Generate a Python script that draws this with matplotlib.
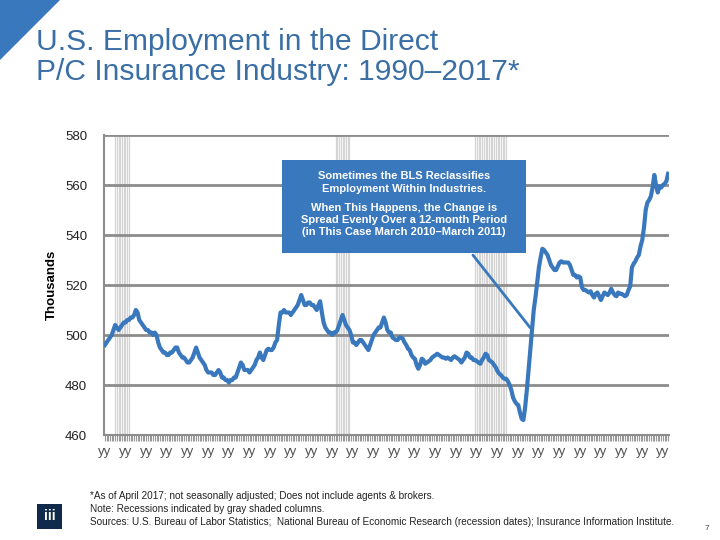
import numpy as np
import matplotlib.pyplot as plt
from matplotlib.patches import Rectangle, Polygon

plt.rcParams['font.family'] = ['Liberation Sans', 'DejaVu Sans']

# monthly employment (thousands), Jan 1990 - Apr 2017
y1990 = [496, 497, 498, 499, 500, 502, 504, 503, 502, 503, 504, 505]
y1991 = [505, 506, 506, 507, 507, 508, 510, 509, 506, 505, 504, 503]
y1992 = [502, 502, 501, 501, 500, 501, 500, 497, 495, 494, 493, 493]
y1993 = [492, 492, 493, 493, 494, 495, 495, 493, 492, 491, 491, 490]
y1994 = [489, 489, 490, 491, 493, 495, 493, 491, 490, 489, 488, 486]
y1995 = [485, 485, 485, 484, 484, 485, 486, 485, 483, 483, 482, 482]
y1996 = [481, 482, 482, 483, 483, 485, 487, 489, 488, 486, 486, 486]
y1997 = [485, 486, 487, 488, 490, 491, 493, 491, 490, 492, 494, 494.5]
y1998 = [494, 494, 495, 497, 498, 504, 509, 509, 510, 509, 509, 509]
y1999 = [508, 509, 510, 511, 512, 514, 516, 514, 512, 512, 513, 513]
y2000 = [512, 512, 511, 510, 512, 513.5, 509, 505, 503, 502, 501, 501]
y2001 = [500, 501, 501, 502, 504, 506, 508, 506, 504, 503, 502, 500]
y2002 = [497, 497, 496, 497, 498, 498, 497, 496, 495, 494, 496, 498]
y2003 = [500, 501, 502, 503, 503, 505, 507, 505, 502, 501, 501, 499]
y2004 = [498.5, 498, 498, 499, 499, 498.5, 497, 496, 494.5, 494, 492, 491]
y2005 = [490.5, 488, 486.5, 488, 490.5, 490, 488.5, 489, 489.5, 490, 491, 491.5]
y2006 = [492, 492.5, 492, 491.5, 491, 491, 490.5, 491, 490.5, 490, 491, 491.5]
y2007 = [491, 490.5, 490, 489, 490, 491, 493, 492.5, 491, 491, 490, 490]
y2008 = [489.5, 489, 488.5, 490, 491, 492.5, 492, 490, 489.5, 489, 488, 487]
y2009 = [485.5, 484.5, 484, 483, 482.5, 482.5, 481.5, 480, 478, 475, 473.5, 472.5]
y2010 = [472, 469, 466.5, 466, 471, 478, 486, 494, 502, 510, 515, 521]
y2011 = [527, 531, 534.5, 534, 533, 532, 530, 528, 527, 526, 526, 527.5]
y2012 = [529, 529.5, 529, 529, 529, 529, 528, 526, 524, 524, 523, 523.5]
y2013 = [523, 519, 518, 518, 517.5, 517, 517.5, 516, 515, 516.5, 517, 515.5]
y2014 = [514, 515.5, 517, 516.5, 516, 517, 518.5, 517, 516, 515.5, 517, 516.5]
y2015 = [516.5, 516, 515.5, 516, 518, 519.5, 527, 528.5, 529.5, 531, 532, 535.5]
y2016 = [538, 543, 550, 553, 554, 555.5, 559, 564, 560, 557, 559.5, 559]
y2017 = [560, 560.5, 561.5, 564.5]

employment = (y1990 + y1991 + y1992 + y1993 + y1994 + y1995 + y1996 + y1997
              + y1998 + y1999 + y2000 + y2001 + y2002 + y2003 + y2004 + y2005
              + y2006 + y2007 + y2008 + y2009 + y2010 + y2011 + y2012 + y2013
              + y2014 + y2015 + y2016 + y2017)

years = list(range(1990, 2018))
tick_labels = ['yy'] * len(years)

# recessions as (start, end) month indexes from Jan 1990
recessions = [(6, 14), (134, 142), (215, 233)]

blue = '#3a78bd'
months = np.arange(len(employment))

fig = plt.figure(figsize=(7.2, 5.4), dpi=100)
ax = fig.add_axes([0.1444, 0.1944, 0.7847, 0.5556])

for start, end in recessions:
    for m in range(start, end + 1):
        ax.axvline(m, color='#d4d4d4', lw=0.9, zorder=0)

for v in range(460, 581, 20):
    ax.axhline(v, color='#8c8c8c', lw=2, zorder=1)

ax.plot(months, employment, color=blue, lw=3, zorder=3, solid_joinstyle='round')

ax.set_xlim(-0.5, len(employment) - 0.5)
ax.set_ylim(460, 580)
ax.set_yticks(range(460, 581, 20))
ax.set_xticks([12 * i for i in range(len(years))])
ax.set_xticklabels(tick_labels)
ax.set_xticks(months, minor=True)
ax.tick_params(axis='y', length=0, pad=12, labelsize=9.5, colors='#222222')
ax.tick_params(axis='x', which='major', length=4, pad=4, labelsize=9.5,
               colors='#999999', labelcolor='#555555')
ax.tick_params(axis='x', which='minor', length=4, color='#999999', width=0.8)
for s in ['top', 'right']:
    ax.spines[s].set_visible(False)
ax.spines['left'].set_color('#8c8c8c')
ax.spines['left'].set_linewidth(1.5)
ax.spines['bottom'].set_color('#8c8c8c')
ax.spines['bottom'].set_linewidth(1.5)
ax.set_ylabel('Thousands', fontsize=9.5, fontweight='bold', labelpad=5)

# annotation box
ax.add_patch(Rectangle((0.315, 0.607), 0.432, 0.31, transform=ax.transAxes,
                       facecolor=blue, edgecolor='none', zorder=5))
ax.text(0.531, 0.842, 'Sometimes the BLS Reclassifies\nEmployment Within Industries.',
        transform=ax.transAxes, ha='center', va='center', color='white',
        fontsize=8, fontweight='bold', zorder=6, linespacing=1.3)
ax.text(0.531, 0.717, 'When This Happens, the Change is\nSpread Evenly Over a 12-month Period\n'
        '(in This Case March 2010\u2013March 2011)',
        transform=ax.transAxes, ha='center', va='center', color='white',
        fontsize=8, fontweight='bold', zorder=6, linespacing=1.3)
ax.annotate('', xy=(248, employment[248]), xytext=(0.65, 0.607),
            textcoords='axes fraction',
            arrowprops=dict(arrowstyle='-', color=blue, lw=2), zorder=4)

# title and corner triangle
fig.patches.append(Polygon([(0, 1), (60 / 720, 1), (0, 1 - 60 / 540)], closed=True,
                           transform=fig.transFigure, facecolor=blue, edgecolor='none'))
fig.text(36 / 720, 1 - 42 / 540, 'U.S. Employment in the Direct', fontsize=21.6,
         color='#3a6ea5', va='center', ha='left')
fig.text(36 / 720, 1 - 72 / 540, 'P/C Insurance Industry: 1990\u20132017*', fontsize=21.6,
         color='#3a6ea5', va='center', ha='left')

# footnotes
notes = ['*As of April 2017; not seasonally adjusted; Does not include agents & brokers.',
         'Note: Recessions indicated by gray shaded columns.',
         'Sources: U.S. Bureau of Labor Statistics;  National Bureau of Economic Research '
         '(recession dates); Insurance Information Institute.']
for i, t in enumerate(notes):
    fig.text(90 / 720, 1 - (496 + 13 * i) / 540, t, fontsize=7.2, color='#222222',
             va='center', ha='left')

fig.patches.append(Rectangle((37 / 720, 1 - 529 / 540), 25 / 720, 25 / 540,
                             transform=fig.transFigure, facecolor='#0f2a4a',
                             edgecolor='none'))
fig.text(49.5 / 720, 1 - 516 / 540, 'iii', fontsize=10, fontweight='bold',
         color='white', ha='center', va='center')
fig.text(707 / 720, 1 - 528 / 540, '7', fontsize=6, color='#444444', ha='center',
         va='center')

fig.savefig('out.png', dpi=100)
